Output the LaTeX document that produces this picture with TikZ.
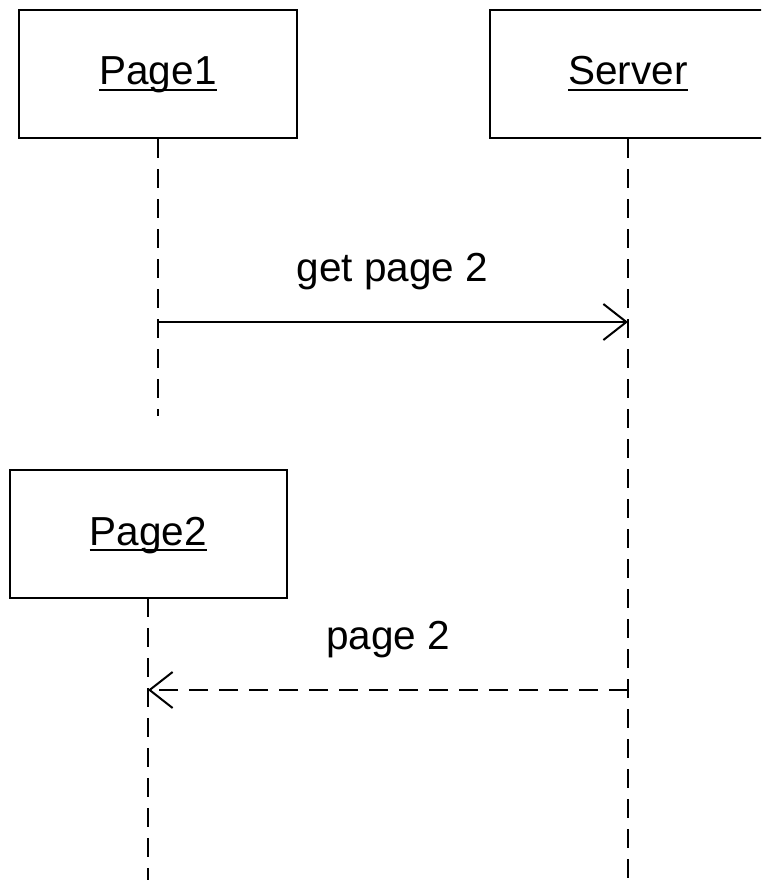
\documentclass[tikz,border=0pt]{standalone}
\usepackage{fontspec}
\setmainfont{Liberation Sans}
\usetikzlibrary{arrows.meta,calc}
\begin{document}
\begin{tikzpicture}[x=1pt,y=-1pt,
  lw/.style={line width=2pt},
  objbox/.style={draw,lw,rectangle,minimum width=#1,minimum height=128pt,inner sep=0pt},
  lbl/.style={inner sep=0pt,anchor=base,font=\fontsize{40.5}{48}\selectfont},
  lifeline/.style={lw,dash pattern=on 19pt off 11pt},
  msg/.style={lw,-{Straight Barb[length=23pt,width=36pt,line width=2pt]}},
  reply/.style={msg,dash pattern=on 19pt off 11pt}]
\clip (0,0) rectangle (761,880);
\fill[white] (0,0) rectangle (761,880);

% participant boxes
\node[objbox=278pt] (p1) at (158,74) {};
\node[objbox=276pt] (srv) at (628,74) {};
\node[objbox=277pt] (p2) at (148.5,534) {};

% underlined names
\node[lbl] (p1t) at (158,85) {Page1};
\node[lbl] (srvt) at (628,85) {Server};
\node[lbl] (p2t) at (148.5,545) {Page2};
\foreach \t in {p1t,srvt,p2t}
  \draw[lw] ($(\t.base west)+(0,5)$) -- ($(\t.base east)+(0,5)$);

% lifeline ends and message points
\coordinate (p1end) at (158,416);
\coordinate (srvend) at (628,882);
\coordinate (p2end) at (148,882);
\coordinate (m1s) at (158,322);
\coordinate (m1e) at (628,322);
\coordinate (m2s) at (628,690);
\coordinate (m2e) at (148,690);

% lifelines
\draw[lifeline] (p1.south) -- (p1end);
\draw[lifeline] (srv.south) -- (srvend);
\draw[lifeline] (148,598) -- (p2end);

% messages
\draw[msg] (m1s) -- (m1e);
\draw[reply] (m2s) -- (m2e);
\node[lbl] (l1) at (392.5,281) {get page 2};
\node[lbl] (l2) at (388,649) {page 2};
\end{tikzpicture}
\end{document}
